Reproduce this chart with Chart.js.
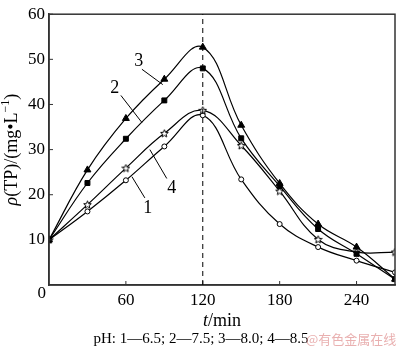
<!DOCTYPE html>
<html>
<head>
<meta charset="utf-8">
<script src="https://cdn.jsdelivr.net/npm/chart.js@4/dist/chart.umd.min.js"></script>
<style>
  html, body { margin: 0; padding: 0; background: #fff; }
  #c { display: block; }
</style>
</head>
<body>
<canvas id="c" width="400" height="348"></canvas>
<script>
// время, мин
const times = [0, 30, 60, 90, 120, 150, 180, 210, 240, 270];
// ρ(TP), mg/L
const ph65 = [10, 16.3, 23.2, 30.7, 37.6, 23.4, 13.5, 8.4, 5.4, 2.8];
const ph75 = [10, 22.6, 32.4, 40.9, 48.0, 32.5, 21.9, 12.4, 6.9, 1.3];
const ph80 = [10, 25.5, 36.9, 45.6, 52.7, 35.4, 22.5, 13.5, 8.4, 1.3];
const ph85 = [10, 17.8, 25.9, 33.6, 38.7, 30.9, 20.8, 10.1, 7.3, 7.3];
const xTicks = [60, 120, 180, 240];
const yTicks = [10, 20, 30, 40, 50, 60];

// подписи кривых: номер, позиция текста, линия-выноска (в координатах данных)
const curveLabels = [
    { text: '3', at: [70, 49.5], from: [72.5, 47.8], to: [88.8, 44.4] },
    { text: '2', at: [51.4, 43.5], from: [56.1, 42.0], to: [72.5, 36.0] },
    { text: '4', at: [95.8, 21.4], from: [91.9, 23.6], to: [78.7, 30.0] },
    { text: '1', at: [77.1, 17.1], from: [74.8, 19.3], to: [64.7, 24.0] }
];

const serif = '"Liberation Serif", "DejaVu Serif", serif';

function makeStar() {
    const s = document.createElement('canvas');
    s.width = 9; s.height = 9;
    const g = s.getContext('2d');
    g.beginPath();
    for (let i = 0; i < 10; i++) {
        const r = i % 2 === 0 ? 4 : 1.8;
        const a = -Math.PI / 2 + i * Math.PI / 5;
        const px = 4.5 + r * Math.cos(a), py = 4.8 + r * Math.sin(a);
        if (i === 0) g.moveTo(px, py); else g.lineTo(px, py);
    }
    g.closePath();
    g.fillStyle = '#fff';
    g.fill();
    g.strokeStyle = '#000';
    g.lineWidth = 1;
    g.stroke();
    return s;
}

function series(values, style, radius, fill) {
    return {
        data: times.map((t, i) => ({ x: t, y: values[i] })),
        borderColor: '#000',
        borderWidth: 1.2,
        tension: 0.4,
        pointStyle: style,
        pointRadius: radius,
        pointBackgroundColor: fill,
        pointBorderColor: '#000',
        pointBorderWidth: 1
    };
}

const decorations = {
    id: 'decorations',
    afterDatasetsDraw(chart) {
        const ctx = chart.ctx;
        const a = chart.chartArea;
        const xs = chart.scales.x, ys = chart.scales.y;
        ctx.save();

        // рамка
        ctx.strokeStyle = '#333';
        ctx.lineWidth = 1.5;
        ctx.strokeRect(a.left, a.top, a.right - a.left, a.bottom - a.top);

        // внутренние засечки
        ctx.lineWidth = 1;
        ctx.beginPath();
        xTicks.forEach(v => {
            const px = xs.getPixelForValue(v);
            ctx.moveTo(px, a.bottom);
            ctx.lineTo(px, a.bottom - 4);
        });
        yTicks.forEach(v => {
            const py = ys.getPixelForValue(v);
            ctx.moveTo(a.left, py);
            ctx.lineTo(a.left + 4, py);
        });
        ctx.stroke();

        // пунктир на 120 мин
        const x120 = xs.getPixelForValue(120);
        ctx.setLineDash([5, 4]);
        ctx.strokeStyle = '#000';
        ctx.beginPath();
        ctx.moveTo(x120, a.bottom);
        ctx.lineTo(x120, a.top);
        ctx.stroke();
        ctx.setLineDash([]);

        // номера кривых
        ctx.fillStyle = '#000';
        ctx.font = '18px ' + serif;
        ctx.textAlign = 'center';
        ctx.textBaseline = 'middle';
        curveLabels.forEach(l => {
            ctx.fillText(l.text, xs.getPixelForValue(l.at[0]), ys.getPixelForValue(l.at[1]));
            ctx.beginPath();
            ctx.moveTo(xs.getPixelForValue(l.from[0]), ys.getPixelForValue(l.from[1]));
            ctx.lineTo(xs.getPixelForValue(l.to[0]), ys.getPixelForValue(l.to[1]));
            ctx.stroke();
        });

        // общий ноль
        ctx.font = '17px ' + serif;
        ctx.textAlign = 'right';
        ctx.fillText('0', a.left - 3, a.bottom + 9);

        // подпись оси x
        const cx = (a.left + a.right) / 2;
        ctx.textAlign = 'left';
        ctx.font = 'italic 18px ' + serif;
        const tW = ctx.measureText('t').width;
        ctx.font = '18px ' + serif;
        const mW = ctx.measureText('/min').width;
        let sx = cx - (tW + mW) / 2;
        ctx.font = 'italic 18px ' + serif;
        ctx.fillText('t', sx, 321);
        ctx.font = '18px ' + serif;
        ctx.fillText('/min', sx + tW, 321);

        // подпись оси y
        ctx.save();
        ctx.translate(12, (a.top + a.bottom) / 2);
        ctx.rotate(-Math.PI / 2);
        const parts = [
            ['italic 18px ' + serif, 'ρ', 0],
            ['18px ' + serif, '(TP)/(mg•L', 0],
            ['12px ' + serif, '−1', -6],
            ['18px ' + serif, ')', 0]
        ];
        let total = 0;
        parts.forEach(p => { ctx.font = p[0]; total += ctx.measureText(p[1]).width; });
        let px = -total / 2;
        parts.forEach(p => {
            ctx.font = p[0];
            ctx.fillText(p[1], px, p[2]);
            px += ctx.measureText(p[1]).width;
        });
        ctx.restore();

        // подпись pH
        ctx.textAlign = 'center';
        ctx.font = '15px ' + serif;
        ctx.fillText('pH: 1—6.5; 2—7.5; 3—8.0; 4—8.5', 201, 339);

        // водяной знак
        ctx.textAlign = 'left';
        ctx.fillStyle = 'rgba(225, 150, 150, 0.75)';
        ctx.font = '13px "Noto Sans CJK SC", sans-serif';
        ctx.fillText('@有色金属在线', 306, 339);

        ctx.restore();
    }
};

new Chart(document.getElementById('c'), {
    type: 'line',
    data: {
        datasets: [
            series(ph75, 'rect', 3.5, '#000'),
            series(ph80, 'triangle', 4, '#000'),
            series(ph85, makeStar(), 4, '#fff'),
            series(ph65, 'circle', 2.5, '#fff')
        ]
    },
    options: {
        responsive: false,
        animation: false,
        devicePixelRatio: 1,
        layout: { padding: { top: 5, right: 3, left: 0, bottom: 0 } },
        plugins: { legend: { display: false }, tooltip: { enabled: false } },
        scales: {
            x: {
                type: 'linear',
                min: 0,
                max: 270,
                afterBuildTicks: s => { s.ticks = xTicks.map(v => ({ value: v })); },
                afterFit: s => { s.height = 63; },
                grid: { display: false, drawTicks: false },
                border: { display: true, color: '#333', width: 1.5 },
                ticks: { color: '#000', padding: 5, font: { family: serif, size: 17 } }
            },
            y: {
                min: 0,
                max: 60,
                afterBuildTicks: s => { s.ticks = yTicks.map(v => ({ value: v })); },
                afterFit: s => { s.width = 49; },
                grid: { display: false, drawTicks: false },
                border: { display: true, color: '#333', width: 1.5 },
                ticks: { color: '#000', padding: 4, font: { family: serif, size: 17 } }
            }
        }
    },
    plugins: [decorations]
});
</script>
</body>
</html>
